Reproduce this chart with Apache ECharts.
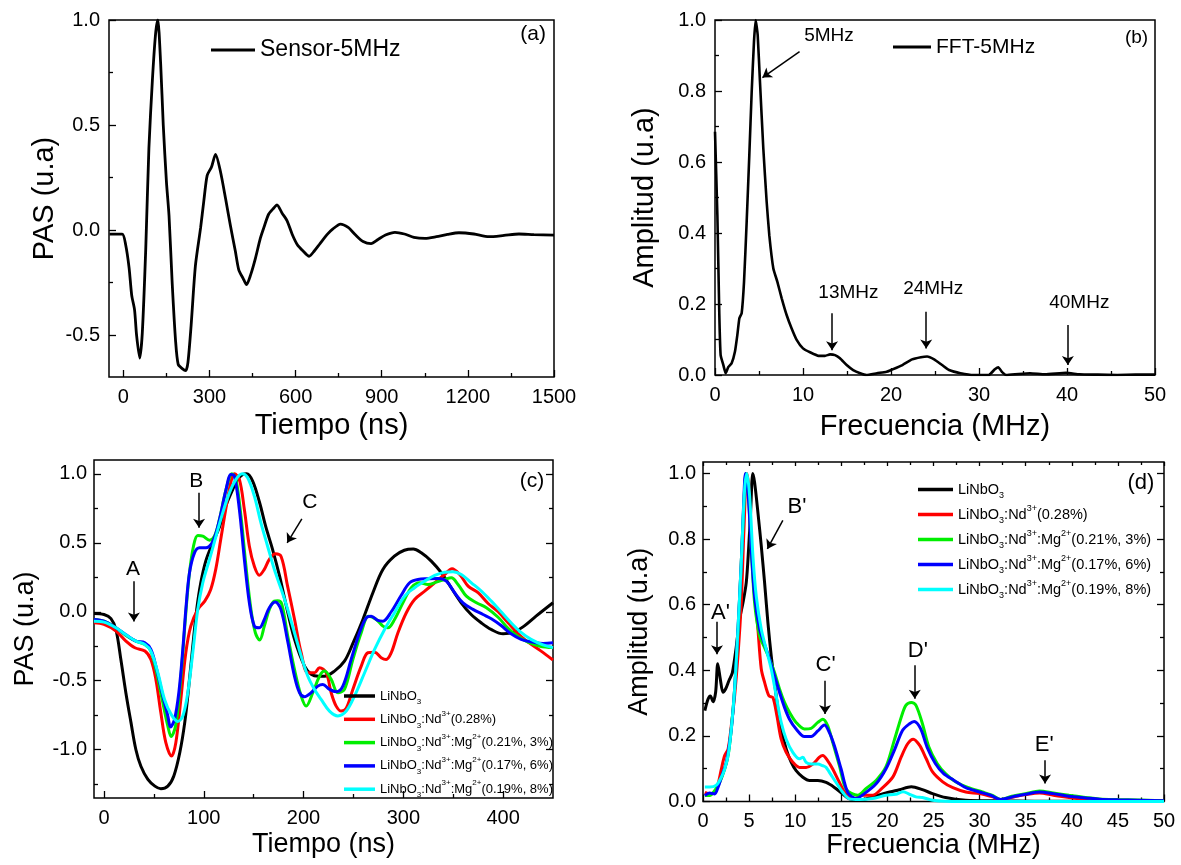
<!DOCTYPE html>
<html><head><meta charset="utf-8">
<script src="https://cdn.jsdelivr.net/npm/echarts@6/dist/echarts.min.js"></script>
<style>html,body{margin:0;padding:0;background:#fff}#chart{width:1181px;height:865px}</style>
</head><body><div id="chart"></div>
<script>
// ---------------- DATA ----------------
// Panel (a): time (ns), PAS (u.a)
const aSensor = [[-48,-0.02],[-4,-0.02],[8,-0.07],[20,-0.18],[29,-0.31],[39,-0.38],[46,-0.50],[57,-0.61],[66,-0.49],[78,-0.09],[89,0.39],[101,0.71],[112,0.93],[120,1.0],[130,0.79],[139,0.50],[150,0.23],[159,0.07],[170,-0.25],[182,-0.53],[191,-0.64],[205,-0.66],[217,-0.67],[225,-0.63],[236,-0.455],[251,-0.17],[269,0.01],[280,0.135],[292,0.26],[307,0.30],[321,0.36],[338,0.28],[356,0.15],[373,0.02],[390,-0.10],[402,-0.19],[417,-0.23],[429,-0.26],[443,-0.215],[460,-0.135],[477,-0.04],[489,0.01],[506,0.075],[524,0.105],[535,0.12],[553,0.08],[570,0.045],[588,-0.02],[606,-0.07],[626,-0.10],[647,-0.125],[665,-0.10],[685,-0.065],[711,-0.02],[730,0.005],[756,0.028],[783,0.012],[809,-0.024],[835,-0.055],[863,-0.065],[887,-0.045],[913,-0.024],[946,-0.011],[979,-0.019],[1012,-0.035],[1051,-0.04],[1090,-0.032],[1129,-0.021],[1169,-0.013],[1221,-0.019],[1273,-0.032],[1326,-0.026],[1378,-0.019],[1430,-0.022],[1500,-0.024]];
// Panel (b): frequency (MHz), amplitude
const bFFT = [[0,0.685],[0.27,0.45],[0.49,0.17],[0.64,0.056],[0.95,0.028],[1.21,0.005],[1.52,0.023],[1.89,0.033],[2.27,0.066],[2.54,0.113],[2.77,0.16],[3.03,0.174],[3.3,0.263],[3.6,0.432],[3.9,0.62],[4.17,0.798],[4.43,0.939],[4.62,1.0],[4.85,0.958],[5.11,0.826],[5.49,0.638],[5.87,0.488],[6.17,0.394],[6.63,0.30],[7.08,0.263],[7.58,0.216],[8.14,0.169],[8.71,0.131],[9.28,0.099],[10.0,0.075],[10.8,0.064],[11.76,0.054],[12.5,0.054],[13.07,0.058],[13.64,0.056],[14.2,0.047],[14.96,0.028],[15.7,0.014],[16.5,0.005],[17.2,0.0],[18.4,0.005],[19.5,0.009],[20.0,0.014],[21.3,0.028],[22.4,0.044],[23.4,0.05],[24.1,0.052],[24.9,0.044],[25.8,0.028],[26.6,0.014],[27.9,0.005],[29.4,0.0],[31.1,0.0],[31.8,0.016],[32.2,0.022],[32.6,0.009],[33.1,0.0],[34.5,0.003],[35.8,0.005],[37.5,0.002],[39.9,0.006],[41.4,0.002],[43.5,0.001],[45.7,0.0],[47.8,0.001],[50,0.001]];
// Panel (c): time (ns), PAS (u.a)
const cBlack = [[-10,-0.012],[0,-0.02],[7,-0.05],[12,-0.13],[17,-0.35],[22,-0.59],[27,-0.80],[32,-1.0],[37,-1.12],[44,-1.215],[51,-1.264],[57,-1.283],[64,-1.264],[70,-1.19],[76,-1.02],[81,-0.80],[85,-0.54],[89,-0.25],[93,0.02],[97,0.21],[102,0.367],[109,0.50],[116,0.62],[122,0.765],[129,0.886],[134,0.959],[139,0.995],[143,1.0],[149,0.947],[156,0.79],[162,0.62],[169,0.451],[176,0.258],[182,0.065],[191,-0.2],[201,-0.394],[208,-0.455],[215,-0.467],[221,-0.467],[231,-0.43],[241,-0.358],[249,-0.237],[259.5,-0.056],[269.5,0.138],[279.5,0.307],[291,0.403],[301,0.446],[310,0.455],[318,0.427],[328,0.367],[338,0.283],[348,0.174],[358,0.065],[368,-0.02],[378,-0.08],[388,-0.128],[400,-0.16],[410,-0.15],[421,-0.104],[433,-0.032],[450,0.065]];
const cRed = [[-10,-0.08],[0,-0.092],[12,-0.14],[22,-0.213],[31,-0.261],[41,-0.285],[47,-0.346],[52,-0.49],[57,-0.732],[62,-0.949],[67.7,-1.046],[72,-0.949],[77,-0.636],[82,-0.297],[87,-0.104],[94,0.017],[101,0.077],[107,0.162],[112,0.307],[117,0.524],[122,0.741],[127,0.935],[130.7,1.0],[135.7,0.959],[140.7,0.741],[145.7,0.475],[150.7,0.33],[155.7,0.265],[160.7,0.307],[165.7,0.379],[171.7,0.42],[177.5,0.40],[184,0.186],[191,-0.056],[197.6,-0.297],[204.3,-0.442],[211,-0.442],[216,-0.406],[222.7,-0.442],[227.7,-0.587],[232.7,-0.684],[237.8,-0.72],[242.8,-0.70],[249.4,-0.563],[257.8,-0.394],[264.5,-0.297],[271.2,-0.293],[277.8,-0.333],[282.8,-0.346],[287.9,-0.297],[294.6,-0.152],[303,-0.007],[311.3,0.089],[321.4,0.149],[331.4,0.21],[341.4,0.27],[348.8,0.312],[356.5,0.27],[364.9,0.186],[374.9,0.138],[385,0.06],[395,0.0],[405,-0.08],[415,-0.16],[425,-0.22],[437,-0.28],[450,-0.35]];
const cGreen = [[-10,-0.056],[0,-0.068],[12,-0.116],[22,-0.172],[32,-0.213],[41,-0.237],[47,-0.285],[52,-0.418],[59,-0.66],[64,-0.829],[67.3,-0.905],[71.7,-0.829],[75.7,-0.587],[79,-0.297],[82.3,0.017],[85.7,0.283],[89.7,0.475],[94,0.553],[99,0.548],[105.7,0.519],[110.7,0.548],[115.7,0.669],[120.7,0.838],[125.7,0.971],[128.3,1.0],[132.3,0.959],[137.3,0.693],[142.3,0.33],[147.3,0.017],[151.7,-0.152],[156,-0.205],[160.7,-0.104],[165.7,0.017],[170.7,0.077],[174,0.08],[178,0.06],[184.2,-0.177],[190.9,-0.418],[197.6,-0.611],[202.6,-0.684],[209.3,-0.587],[216,-0.467],[221,-0.43],[227.7,-0.49],[234.4,-0.587],[241,-0.563],[249.4,-0.346],[257.8,-0.152],[265.2,-0.032],[272.9,-0.056],[279.5,-0.104],[284.5,-0.116],[291.2,-0.056],[299.6,0.065],[308,0.174],[316.3,0.21],[324.7,0.198],[333.1,0.215],[341.4,0.234],[348.1,0.246],[354.8,0.198],[363.2,0.113],[373.3,0.065],[383.3,0.029],[395,-0.04],[405,-0.12],[415,-0.18],[425,-0.22],[437,-0.25],[450,-0.26]];
const cBlue = [[-10,-0.056],[0,-0.068],[12,-0.116],[22,-0.167],[32,-0.213],[41,-0.225],[47,-0.273],[52,-0.394],[59,-0.611],[64,-0.756],[66.7,-0.835],[70.7,-0.78],[75,-0.587],[79,-0.273],[82.3,0.041],[85.7,0.283],[90.7,0.427],[95.7,0.464],[102.3,0.464],[107.3,0.488],[112.3,0.572],[117.3,0.717],[122.3,0.886],[127.3,0.995],[130.7,0.983],[135.7,0.741],[140.7,0.379],[145.7,0.065],[150.7,-0.104],[155.7,-0.116],[160.7,-0.056],[165.7,0.029],[171.7,0.07],[177.3,0.017],[184,-0.21],[190.9,-0.467],[196,-0.587],[201,-0.616],[207.6,-0.587],[214.3,-0.539],[219.3,-0.527],[226,-0.563],[232.7,-0.58],[239.4,-0.539],[247.7,-0.346],[256.1,-0.152],[262.8,-0.044],[267.8,-0.032],[274.5,-0.063],[279.5,-0.068],[287.9,0.0],[297.9,0.12],[306.3,0.21],[314.6,0.234],[324.7,0.239],[334.7,0.241],[343.1,0.222],[351.4,0.138],[359.8,0.065],[369.8,0.017],[379.9,-0.02],[388.2,-0.051],[398,-0.1],[408,-0.16],[418,-0.2],[430,-0.22],[440,-0.23],[450,-0.225]];
const cCyan = [[-10,-0.068],[0,-0.075],[12,-0.116],[22,-0.167],[32,-0.213],[41,-0.237],[47,-0.285],[54,-0.442],[60.7,-0.636],[67.3,-0.744],[74,-0.795],[79,-0.756],[84,-0.587],[89,-0.297],[94,0.017],[99,0.21],[105.7,0.379],[112.3,0.548],[119,0.717],[125.7,0.862],[132.3,0.959],[138.5,1.0],[144,0.971],[150.7,0.838],[157.3,0.645],[164,0.475],[170.7,0.307],[177.3,0.17],[184,0.02],[190.9,-0.152],[197.6,-0.32],[204.3,-0.467],[211,-0.563],[217.6,-0.635],[226,-0.72],[234.4,-0.755],[242.8,-0.72],[251.1,-0.611],[261.2,-0.442],[271.2,-0.273],[281.2,-0.128],[291.2,-0.007],[301.3,0.113],[311.3,0.174],[321.4,0.222],[331.4,0.263],[341.4,0.287],[349.8,0.29],[358.1,0.27],[368.2,0.21],[378.2,0.15],[388.2,0.077],[398,0.0],[408,-0.08],[418,-0.15],[428,-0.2],[440,-0.24],[450,-0.26]];
// Panel (d): frequency (MHz), amplitude
const dBlack = [[0.2,0.277],[0.54,0.312],[0.8,0.322],[1.09,0.304],[1.37,0.333],[1.6,0.42],[1.88,0.373],[2.17,0.333],[2.45,0.343],[2.82,0.369],[3.18,0.392],[3.6,0.47],[3.97,0.556],[4.33,0.605],[4.69,0.667],[4.95,0.772],[5.16,0.88],[5.4,1.0],[5.6,0.972],[5.96,0.88],[6.32,0.779],[6.68,0.667],[7.04,0.545],[7.4,0.444],[7.76,0.363],[8.12,0.282],[8.48,0.221],[9.02,0.16],[9.56,0.12],[10.1,0.094],[10.83,0.074],[11.55,0.064],[12.45,0.064],[13.35,0.058],[14.25,0.043],[15.16,0.023],[15.88,0.008],[16.96,0.004],[18.4,0.014],[19.85,0.026],[21.3,0.036],[22.6,0.045],[23.8,0.036],[24.9,0.024],[26.3,0.012],[28.5,0.004],[32,0.002],[36,0.001],[40,0.001],[50,0.0]];
const dRed = [[0.2,0.028],[0.72,0.023],[1.26,0.028],[1.63,0.053],[1.99,0.099],[2.35,0.14],[2.72,0.16],[3.07,0.231],[3.43,0.322],[3.79,0.444],[4.15,0.605],[4.44,0.828],[4.75,1.0],[4.98,0.95],[5.24,0.777],[5.6,0.646],[5.96,0.525],[6.32,0.404],[6.68,0.363],[7.15,0.322],[7.58,0.317],[8.01,0.262],[8.48,0.19],[9.02,0.15],[9.74,0.12],[10.47,0.104],[11.19,0.104],[11.91,0.114],[12.63,0.135],[12.99,0.14],[13.53,0.124],[14.07,0.099],[14.8,0.058],[15.52,0.023],[16.42,0.009],[17.3,0.019],[18.4,0.019],[19.4,0.04],[20.6,0.075],[21.5,0.136],[22.2,0.176],[22.8,0.19],[23.5,0.171],[24.2,0.131],[24.9,0.09],[26.0,0.06],[27.1,0.042],[28.5,0.029],[30.0,0.024],[31.4,0.014],[32.2,0.006],[33.7,0.014],[35.0,0.021],[36.5,0.026],[38.0,0.019],[39.7,0.012],[41.5,0.006],[43,0.004],[46,0.003],[50,0.002]];
const dGreen = [[0.2,0.018],[0.72,0.018],[1.26,0.033],[1.81,0.058],[2.35,0.099],[2.72,0.14],[3.07,0.221],[3.43,0.343],[3.79,0.515],[4.15,0.728],[4.44,0.91],[4.65,1.0],[4.91,0.94],[5.24,0.767],[5.6,0.605],[6.14,0.505],[6.68,0.469],[7.22,0.434],[7.76,0.393],[8.3,0.343],[8.84,0.302],[9.38,0.272],[10.1,0.241],[11.0,0.221],[11.73,0.223],[12.45,0.241],[12.99,0.251],[13.53,0.231],[14.07,0.18],[14.8,0.109],[15.52,0.038],[16.78,0.019],[17.7,0.04],[18.8,0.065],[19.85,0.106],[20.75,0.187],[21.5,0.257],[22.0,0.293],[22.6,0.302],[23.1,0.293],[23.8,0.237],[24.5,0.166],[25.4,0.116],[26.3,0.085],[27.4,0.06],[28.8,0.042],[30.3,0.029],[31.4,0.019],[32.3,0.006],[33.5,0.016],[35.0,0.024],[36.5,0.032],[38.0,0.026],[39.7,0.019],[41.5,0.012],[43,0.008],[45,0.006],[50,0.002]];
const dBlue = [[0.2,0.018],[0.72,0.026],[1.26,0.023],[1.63,0.043],[1.99,0.074],[2.54,0.12],[3.07,0.221],[3.43,0.343],[3.79,0.525],[4.15,0.728],[4.44,0.93],[4.6,1.0],[4.91,0.93],[5.24,0.767],[5.6,0.625],[6.14,0.525],[6.68,0.479],[7.22,0.434],[7.76,0.383],[8.3,0.333],[8.84,0.287],[9.38,0.251],[10.1,0.221],[11.0,0.198],[11.73,0.198],[12.45,0.215],[13.17,0.233],[13.71,0.21],[14.25,0.17],[14.98,0.099],[15.7,0.028],[16.6,0.009],[17.5,0.024],[18.8,0.055],[19.85,0.1],[20.75,0.156],[21.65,0.217],[22.4,0.237],[22.9,0.244],[23.6,0.222],[24.3,0.166],[25.2,0.116],[26.1,0.085],[27.2,0.065],[28.5,0.042],[30.0,0.029],[31.2,0.019],[32.3,0.006],[33.5,0.014],[35.0,0.022],[36.5,0.029],[38.0,0.024],[39.7,0.016],[41.5,0.011],[43,0.007],[45,0.005],[50,0.002]];
const dCyan = [[0.2,0.044],[0.72,0.044],[1.45,0.05],[1.99,0.074],[2.35,0.099],[2.72,0.14],[3.07,0.221],[3.43,0.343],[3.79,0.525],[4.15,0.728],[4.51,0.95],[4.76,1.0],[5.06,0.93],[5.42,0.746],[5.78,0.625],[6.32,0.525],[6.86,0.464],[7.4,0.404],[7.94,0.322],[8.48,0.241],[9.02,0.19],[9.74,0.15],[10.47,0.13],[10.83,0.135],[11.19,0.119],[11.73,0.114],[12.45,0.114],[12.99,0.109],[13.35,0.104],[13.71,0.089],[14.43,0.058],[15.16,0.028],[15.88,0.008],[16.96,0.006],[18.4,0.009],[19.85,0.019],[20.9,0.022],[21.7,0.03],[22.4,0.022],[23.1,0.014],[23.8,0.012],[24.9,0.004],[26.3,0.001],[30,0.0],[40,0.0],[50,0.0]];

// Tick values
const aXMajor = [0,300,600,900,1200,1500], aXMinor = [150,450,750,1050,1350];
const aYMajor = [-0.5,0,0.5,1.0], aYMinor = [-0.25,0.25,0.75];
const bXMajor = [0,10,20,30,40,50], bXMinor = [5,15,25,35,45];
const bYMajor = [0,0.2,0.4,0.6,0.8,1.0], bYMinor = [0.1,0.3,0.5,0.7,0.9];
const cXMajor = [0,100,200,300,400], cXMinor = [50,150,250,350];
const cYMajor = [-1,-0.5,0,0.5,1], cYMinor = [-1.25,-0.75,-0.25,0.25,0.75];
const dXMajor = [0,5,10,15,20,25,30,35,40,45,50], dXMinor = [2.5,7.5,12.5,17.5,22.5,27.5,32.5,37.5,42.5,47.5];
const dYMajor = [0,0.2,0.4,0.6,0.8,1.0], dYMinor = [0.1,0.3,0.5,0.7,0.9];

// Legend labels
const sampleNames = ['LiNbO{s|3}','LiNbO{s|3}:Nd{p|3+}(0.28%)','LiNbO{s|3}:Nd{p|3+}:Mg{p|2+}(0.21%, 3%)','LiNbO{s|3}:Nd{p|3+}:Mg{p|2+}(0.17%, 6%)','LiNbO{s|3}:Nd{p|3+}:Mg{p|2+}(0.19%, 8%)'];
const sampleColors = ['#000000','#ff0000','#00ee00','#0000ff','#00ffff'];

// Annotations [text, x, y] and arrows [x1,y1,x2,y2]
const aTexts = [['(a)',1427,0.933]];
const bTexts = [['(b)',47.9,0.951],['5MHz',12.95,0.955],['13MHz',15.16,0.232],['24MHz',24.8,0.242],['40MHz',41.4,0.204]];
const bArrows = [[9.61,0.911,5.39,0.838],[13.3,0.174,13.3,0.07],[24.0,0.178,24.0,0.075],[40.1,0.141,40.1,0.028]];
const cTexts = [['(c)',429,0.946],['A',29,0.31],['B',92.6,0.946],['C',206.4,0.796]];
const cArrows = [[30,0.222,30,-0.07],[95.3,0.862,95.3,0.609],[198.3,0.674,183.6,0.5]];
const dTexts = [['(d)',47.5,0.972],["A'",1.9,0.576],["B'",10.2,0.899],["C'",13.3,0.416],["D'",23.3,0.458],["E'",37.0,0.171]];
const dArrows = [[1.52,0.548,1.52,0.449],[8.66,0.857,6.98,0.77],[13.24,0.368,13.24,0.267],[22.97,0.415,22.97,0.313],[37.1,0.126,37.1,0.055]];

// ---------------- BUILD ----------------
const FONT = "'Liberation Sans', Arial, Helvetica, sans-serif";
const xAxes = [], yAxes = [];
function addAxis(list, o) {
  const idx = list.length;
  list.push({
    type:'value', gridIndex:o.grid, position:o.pos, min:o.min, max:o.max,
    axisLine:{show:false, onZero:false},
    axisTick:{show:true, inside:true, length:o.tickLen||7, customValues:o.majors, lineStyle:{color:'#000', width:1.3}},
    axisLabel:{show:!!o.labels, customValues:o.majors, color:'#000', fontFamily:FONT, fontSize:o.labelSize||20, margin:o.margin||9, formatter:o.fmt},
    splitLine:{show:false},
    name:o.name||'', nameLocation:'middle', nameGap:o.nameGap||30,
    nameTextStyle:{color:'#000', fontFamily:FONT, fontSize:o.nameSize||28}
  });
  if (o.minors) list.push({
    type:'value', gridIndex:o.grid, position:o.pos, min:o.min, max:o.max,
    axisLine:{show:false, onZero:false},
    axisTick:{show:true, inside:true, length:o.minorLen||4, customValues:o.minors, lineStyle:{color:'#000', width:1.3}},
    axisLabel:{show:false}, splitLine:{show:false}
  });
  return idx;
}
const fx = v => String(v);
const fy = v => v.toFixed(1);

const grids = [
  {left:109, top:20, width:445, height:357},
  {left:715, top:20, width:440, height:355},
  {left:94, top:460, width:459, height:338},
  {left:703, top:462, width:461, height:339.5}
].map(g => Object.assign(g, {show:true, borderColor:'#000', borderWidth:1.5, backgroundColor:'transparent', containLabel:false}));

const axA = {x: addAxis(xAxes,{grid:0,pos:'bottom',min:-50,max:1500,majors:aXMajor,minors:aXMinor,labels:true,fmt:fx,name:'Tiempo (ns)',nameGap:34,nameSize:29,margin:10}),
             y: addAxis(yAxes,{grid:0,pos:'left',min:-0.7,max:1.0,majors:aYMajor,minors:aYMinor,labels:true,fmt:fy,name:'PAS (u.a)',nameGap:50,nameSize:29,margin:9})};
const axB = {x: addAxis(xAxes,{grid:1,pos:'bottom',min:0,max:50,majors:bXMajor,minors:bXMinor,labels:true,fmt:fx,name:'Frecuencia (MHz)',nameGap:37,nameSize:29,margin:10}),
             y: addAxis(yAxes,{grid:1,pos:'left',min:0,max:1,majors:bYMajor,minors:bYMinor,labels:true,fmt:fy,name:'Amplitud (u.a)',nameGap:56,nameSize:29,margin:9})};
const axC = {x: addAxis(xAxes,{grid:2,pos:'bottom',min:-10,max:450,majors:cXMajor,minors:cXMinor,labels:true,fmt:fx,name:'Tiempo (ns)',nameGap:33,nameSize:27,margin:10}),
             y: addAxis(yAxes,{grid:2,pos:'left',min:-1.35,max:1.1,majors:cYMajor,minors:cYMinor,labels:true,fmt:fy,name:'PAS (u.a)',nameGap:55,nameSize:27,margin:7})};
addAxis(yAxes,{grid:2,pos:'right',min:-1.35,max:1.1,majors:cYMajor,minors:cYMinor,labels:false});
const axD = {x: addAxis(xAxes,{grid:3,pos:'bottom',min:0,max:50,majors:dXMajor,minors:dXMinor,labels:true,fmt:fx,name:'Frecuencia (MHz)',nameGap:30,nameSize:27,margin:10}),
             y: addAxis(yAxes,{grid:3,pos:'left',min:0,max:1.035,majors:dYMajor,minors:dYMinor,labels:true,fmt:fy,name:'Amplitud (u.a)',nameGap:50,nameSize:27,margin:7})};
addAxis(yAxes,{grid:3,pos:'right',min:0,max:1.035,majors:dYMajor,minors:dYMinor,labels:false});
addAxis(xAxes,{grid:3,pos:'top',min:0,max:50,majors:dXMajor,minors:dXMinor,labels:false,tickLen:4,minorLen:3});

function textMarks(items, size) {
  return {symbol:'circle', symbolSize:0, silent:true, animation:false,
    label:{show:true, position:'inside', formatter:'{b}', color:'#000', fontFamily:FONT, fontSize:size},
    itemStyle:{color:'transparent'},
    data: items.map(t => ({name:t[0], coord:[t[1], t[2]], value:0}))};
}
function arrowMarks(items) {
  return {symbol:['none','arrow'], symbolSize:9, silent:true, animation:false, label:{show:false},
    lineStyle:{color:'#000', width:1.5, type:'solid'}, itemStyle:{color:'#000'}, emphasis:{disabled:true},
    data: items.map(a => [{coord:[a[0],a[1]]},{coord:[a[2],a[3]]}])};
}
function lineSeries(name, data, color, ax, width, smooth) {
  return {type:'line', name, data, xAxisIndex:ax.x, yAxisIndex:ax.y, showSymbol:false, symbol:'none',
    smooth, lineStyle:{color, width}, itemStyle:{color}, animation:false, silent:true};
}

const series = [];
series.push(Object.assign(lineSeries('Sensor-5MHz', aSensor, '#000', axA, 2.8, 0.25), {markPoint:textMarks(aTexts,21)}));
series.push(Object.assign(lineSeries('FFT-5MHz', bFFT, '#000', axB, 2.6, 0.15), {markPoint:textMarks(bTexts,19), markLine:arrowMarks(bArrows)}));
const cData = [cBlack, cRed, cGreen, cBlue, cCyan];
cData.forEach((d,i) => {
  const s = lineSeries('c'+i, d, sampleColors[i], axC, 3, 0.35);
  if (i === 0) { s.markPoint = textMarks(cTexts,21); s.markLine = arrowMarks(cArrows); }
  series.push(s);
});
const dData = [dBlack, dRed, dGreen, dBlue, dCyan];
dData.forEach((d,i) => {
  const s = lineSeries('d'+i, d, sampleColors[i], axD, 3, 0.3);
  if (i === 0) { s.markPoint = textMarks(dTexts,22); s.markLine = arrowMarks(dArrows); }
  series.push(s);
});

function richFor(size) {
  const small = Math.round(size*0.62);
  return {
    s:{fontSize:small, fontFamily:FONT, color:'#000', lineHeight:Math.round(size*0.55), verticalAlign:'bottom'},
    p:{fontSize:small, fontFamily:FONT, color:'#000', lineHeight:Math.round(size*0.85), verticalAlign:'top'}
  };
}
const legends = [
  {left:211, top:37, padding:0, icon:'rect', itemWidth:44, itemHeight:3, selectedMode:false, data:['Sensor-5MHz'],
   textStyle:{fontSize:23, fontFamily:FONT, color:'#000', lineHeight:26}},
  {left:893, top:35, padding:0, icon:'rect', itemWidth:38, itemHeight:3, selectedMode:false, data:['FFT-5MHz'],
   textStyle:{fontSize:21, fontFamily:FONT, color:'#000', lineHeight:24}},
  {left:344, top:686, padding:0, orient:'vertical', icon:'rect', itemWidth:31, itemHeight:3.5, itemGap:3.3, selectedMode:false,
   data:['c0','c1','c2','c3','c4'], formatter: n => sampleNames[+n.slice(1)],
   textStyle:{fontSize:13, fontFamily:FONT, color:'#000', lineHeight:20, rich:richFor(13)}},
  {left:918, top:479, padding:0, orient:'vertical', icon:'rect', itemWidth:35, itemHeight:3.5, itemGap:4, selectedMode:false,
   data:['d0','d1','d2','d3','d4'], formatter: n => sampleNames[+n.slice(1)],
   textStyle:{fontSize:14.5, fontFamily:FONT, color:'#000', lineHeight:21, rich:richFor(14.5)}}
];

const chart = echarts.init(document.getElementById('chart'), null, {renderer:'canvas'});
chart.setOption({
  backgroundColor:'#fff', animation:false,
  textStyle:{fontFamily:FONT},
  grid:grids, xAxis:xAxes, yAxis:yAxes, series, legend:legends, tooltip:{show:false}
});
</script></body></html>
